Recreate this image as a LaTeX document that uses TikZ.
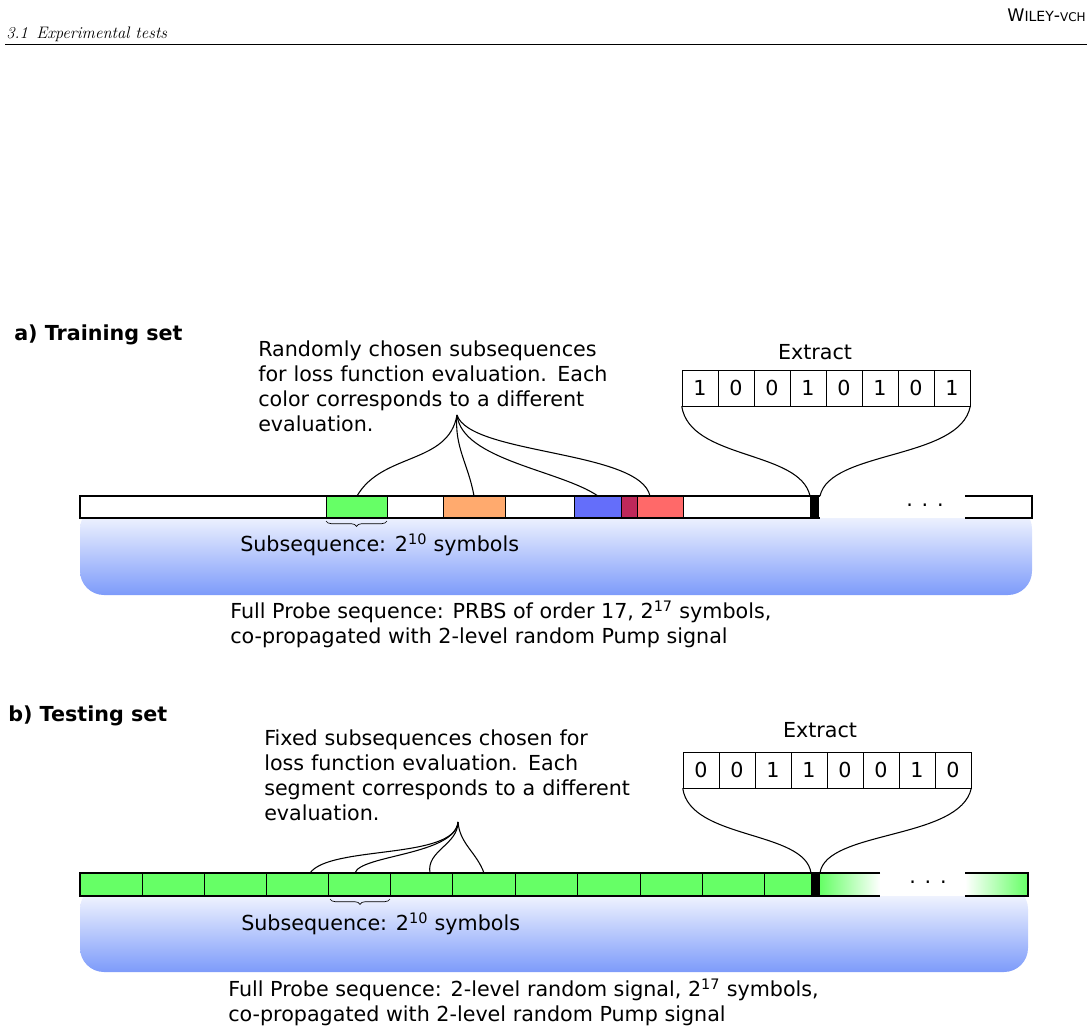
\documentclass[tikz,border=0pt]{standalone}
\usepackage{fontspec}
\setmainfont{DejaVu Sans}
\newfontfamily\headfont{Latin Modern Roman}
\usetikzlibrary{positioning, calc, decorations.pathreplacing}
\definecolor{segGreen}{RGB}{102,255,102}
\definecolor{segOrange}{RGB}{255,170,110}
\definecolor{segBlue}{RGB}{100,110,250}
\definecolor{segPurple}{RGB}{190,40,90}
\definecolor{segRed}{RGB}{255,105,105}
\definecolor{bandBlue}{RGB}{125,155,250}
\tikzset{
    txt/.style={anchor=west, inner sep=0, font=\fontsize{15.5}{18.75}\selectfont},
    lbl/.style={txt, font=\fontsize{15.5}{18.75}\selectfont\bfseries},
    cell/.style={draw, minimum width=27pt, minimum height=27pt, inner sep=0, font=\fontsize{15.5}{18}\selectfont},
    band/.style={rounded corners=18pt, top color=white, bottom color=bandBlue, draw=none},
    fan/.style={line width=0.8pt},
    brc/.style={decorate, decoration={brace, mirror, amplitude=4pt}, line width=0.5pt}
}
\begin{document}
\begin{tikzpicture}[x=0.75pt, y=-0.75pt]
    \useasboundingbox (0,0) rectangle (1092,1033);

    % header
    \node[anchor=west, inner sep=0, font=\headfont\itshape\fontsize{12.5}{14}\selectfont] (head) at (6,34) {3.1\enspace Experimental tests};
    \node[anchor=east, inner sep=0, font=\fontsize{13}{14}\selectfont] (wiley) at (1086,15) {W{\fontsize{10.5}{12}\selectfont ILEY}-{\fontsize{9}{12}\selectfont VCH}};
    \draw[line width=0.5pt] (5,44) -- (1087,44);

    % ---------- a) training set
    \node[lbl] (titleA) at (14,335) {a) Training set};
    \draw[band] (80,505) rectangle (1032,595);
    \fill[white] (80,496) rectangle (1032,518);
    \fill[segGreen]  (326,496) rectangle (387,518);
    \fill[segOrange] (443,496) rectangle (505,518);
    \fill[segBlue]   (574,496) rectangle (621,518);
    \fill[segPurple] (621,496) rectangle (637,518);
    \fill[segRed]    (637,496) rectangle (683,518);
    \foreach \x in {326,387,443,505,574,621,637,683}
        \draw[line width=0.4pt] (\x,496) -- (\x,518);
    \fill[black] (810,496) rectangle (819,518);
    \draw[line width=1.5pt] (820,496) -- (80,496) -- (80,518) -- (820,518);
    \draw[line width=1.5pt] (965,496) -- (1032,496) -- (1032,518) -- (965,518);
    \node[font=\fontsize{15.5}{18}\selectfont] (dotsA) at (925,505) {. . .};

    \node[txt, align=left, text width=320pt] (noteA) at (258,386)
        {Randomly chosen subsequences\\for loss function evaluation. Each\\color corresponds to a different\\evaluation.};
    \coordinate (fanA) at (457,415);
    \draw[fan] (fanA) to[out=-100, in=60] (357,496);
    \draw[fan] (fanA) to[out=-95, in=100] (474,496);
    \draw[fan] (fanA) .. controls (462,460) and (560,470) .. (598,496);
    \draw[fan] (fanA) .. controls (470,455) and (640,450) .. (650,496);

    \node[font=\fontsize{15.5}{18}\selectfont] (extA) at (815,352) {Extract};
    \foreach \b [count=\i] in {1,0,0,1,0,1,0,1}
        \node[cell] (a\i) at (682+36*\i-18,388) {\b};
    \draw[fan] (a1.south west) .. controls (690,460) and (800,450) .. (810,496);
    \draw[fan] (a8.south east) .. controls (960,460) and (830,450) .. (820,496);

    \draw[brc] (326,521) -- (387,521);
    \node[txt] (subA) at (240,545) {Subsequence: 2\textsuperscript{10} symbols};
    \node[txt, align=left] (fullA) at (230,624)
        {Full Probe sequence: PRBS of order 17, 2\textsuperscript{17} symbols,\\co-propagated with 2-level random Pump signal};

    % ---------- b) testing set
    \node[lbl] (titleB) at (8,716) {b) Testing set};
    \draw[band] (80,885) rectangle (1028,972);
    \fill[segGreen] (80,873) rectangle (820,896);
    \shade[left color=segGreen, right color=white] (820,873) rectangle (880,896);
    \fill[white] (880,873) rectangle (965,896);
    \shade[left color=white, right color=segGreen] (965,873) rectangle (1028,896);
    \foreach \x in {142,204,266,328,390,452,515,577,640,702,764}
        \draw[line width=0.4pt] (\x,873) -- (\x,896);
    \fill[black] (811,873) rectangle (820,896);
    \draw[line width=1.5pt] (880,873) -- (80,873) -- (80,896) -- (880,896);
    \draw[line width=1.5pt] (965,873) -- (1028,873) -- (1028,896) -- (965,896);
    \node[font=\fontsize{15.5}{18}\selectfont] (dotsB) at (928,882) {. . .};

    \node[txt, align=left, text width=320pt] (noteB) at (264,775)
        {Fixed subsequences chosen for\\loss function evaluation. Each\\segment corresponds to a different\\evaluation.};
    \coordinate (fanB) at (458,822);
    \draw[fan] (fanB) .. controls (455,860) and (330,845) .. (310,873);
    \draw[fan] (fanB) .. controls (455,855) and (360,855) .. (355,873);
    \draw[fan] (fanB) to[out=-90, in=100] (430,873);
    \draw[fan] (fanB) to[out=-85, in=110] (484,873);

    \node[font=\fontsize{15.5}{18}\selectfont] (extB) at (820,730) {Extract};
    \foreach \b [count=\i] in {0,0,1,1,0,0,1,0}
        \node[cell] (b\i) at (683+36*\i-18,770) {\b};
    \draw[fan] (b1.south west) .. controls (690,840) and (805,830) .. (811,873);
    \draw[fan] (b8.south east) .. controls (960,840) and (826,830) .. (820,873);

    \draw[brc] (330,899) -- (390,899);
    \node[txt] (subB) at (241,924) {Subsequence: 2\textsuperscript{10} symbols};
    \node[txt, align=left] (fullB) at (228,1002)
        {Full Probe sequence: 2-level random signal, 2\textsuperscript{17} symbols,\\co-propagated with 2-level random Pump signal};
\end{tikzpicture}
\end{document}
